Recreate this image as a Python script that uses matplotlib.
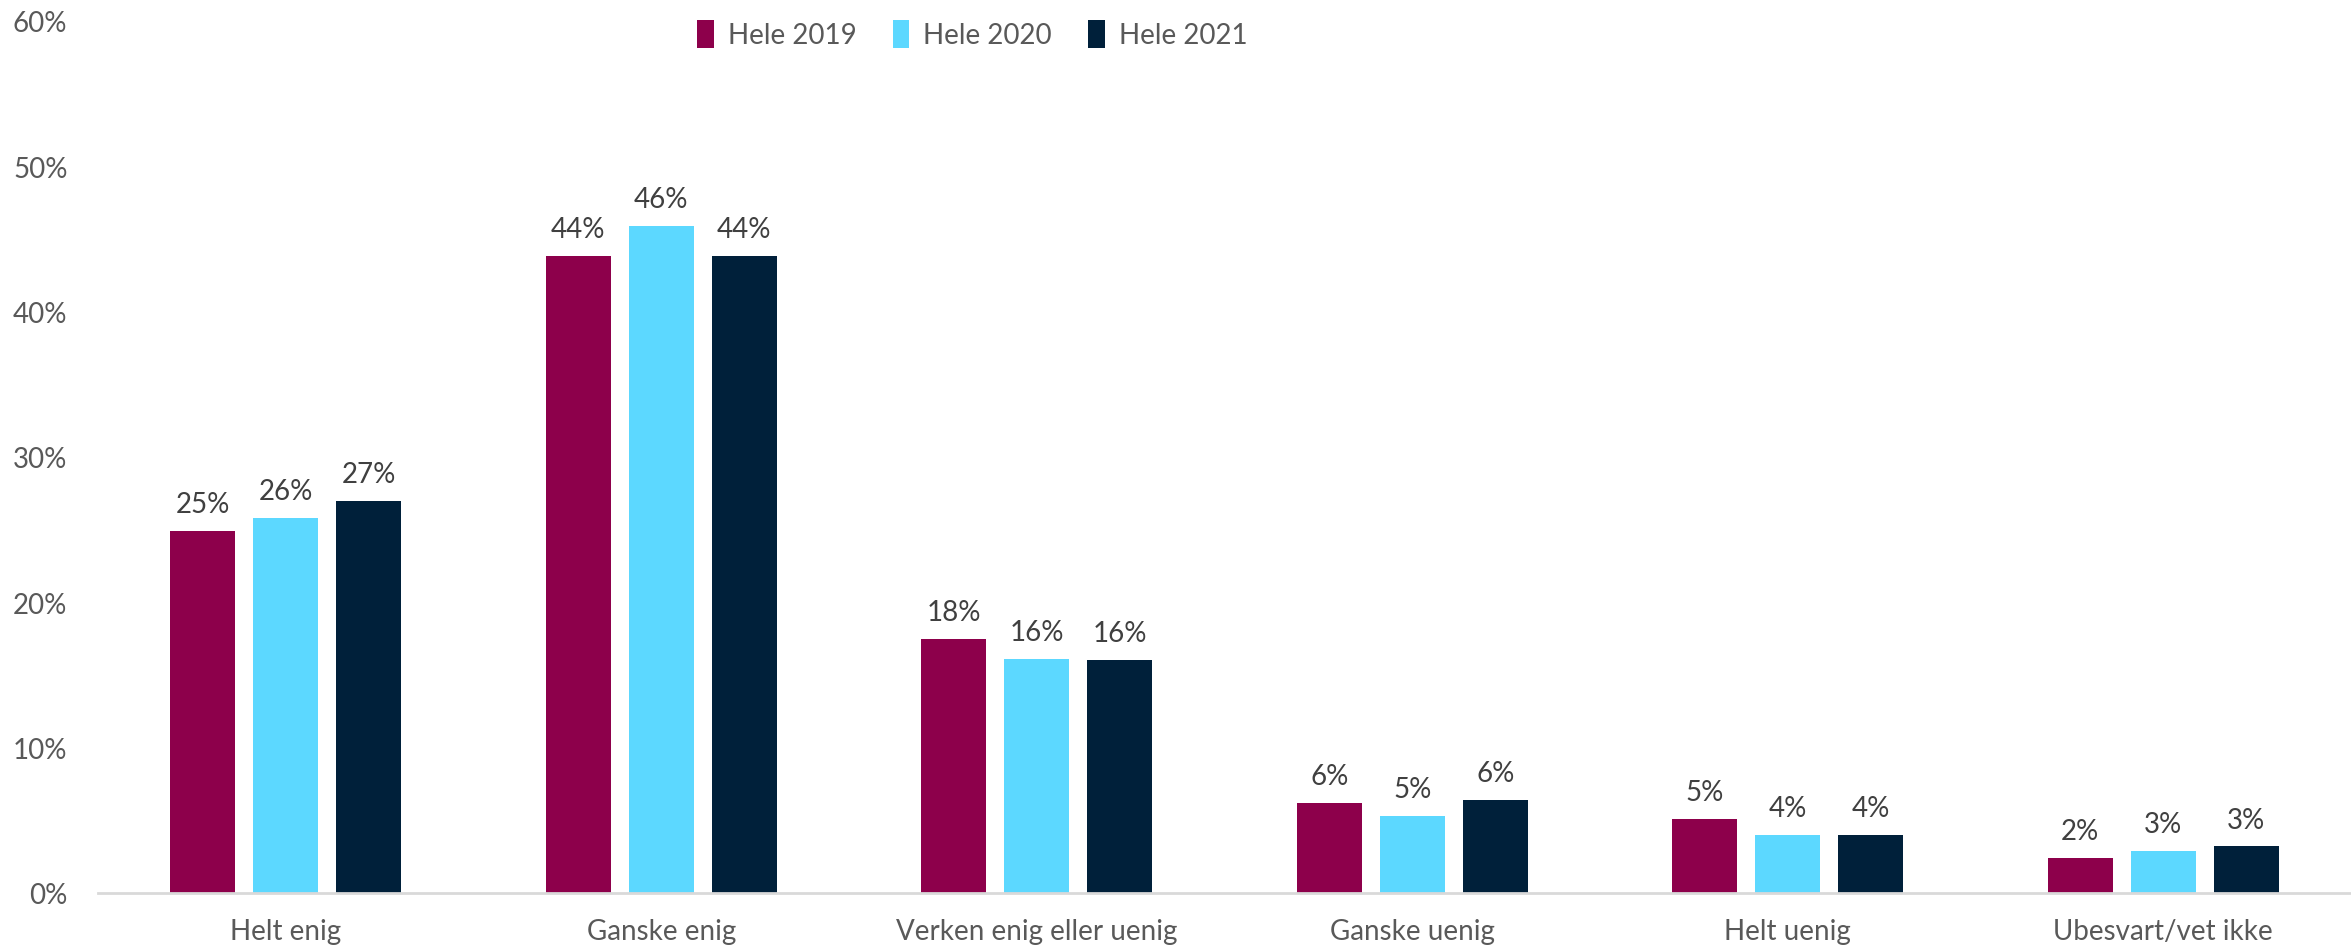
import numpy as np
import matplotlib.pyplot as plt
from matplotlib.ticker import PercentFormatter

categories = ['Helt enig', 'Ganske enig', 'Verken enig eller uenig',
              'Ganske uenig', 'Helt uenig', 'Ubesvart/vet ikke']
series_names = ['Hele 2019', 'Hele 2020', 'Hele 2021']
v2019 = [24.9, 43.8, 17.5, 6.2, 5.1, 2.4]
v2020 = [25.8, 45.9, 16.1, 5.3, 4.0, 2.9]
v2021 = [27.0, 43.8, 16.0, 6.4, 4.0, 3.2]
colors = ['#8D004B', '#5CD8FF', '#00203A']

plt.rcParams['font.family'] = ['Lato', 'DejaVu Sans']

fig = plt.figure(figsize=(23.51, 9.53), dpi=100)
ax = fig.add_axes([0.0417, 0.062, 0.9583, 0.915])

x = np.arange(len(categories))
width = 0.173
offsets = [-0.221, 0.0, 0.221]
for vals, name, col, off in zip((v2019, v2020, v2021), series_names, colors, offsets):
    bars = ax.bar(x + off, vals, width, color=col, label=name)
    for b, v in zip(bars, vals):
        ax.annotate('{:.0f}%'.format(v), (b.get_x() + b.get_width() / 2, v),
                    xytext=(0, 10), textcoords='offset points',
                    ha='center', va='bottom', fontsize=20, color='#404040')

ax.set_xlim(-0.5, len(categories) - 0.5)
ax.set_ylim(0, 60)
ax.set_yticks(np.arange(0, 61, 10))
ax.yaxis.set_major_formatter(PercentFormatter(decimals=0))
ax.set_xticks(x)
ax.set_xticklabels(categories)
ax.tick_params(axis='both', length=0, labelsize=20, labelcolor='#595959')
ax.tick_params(axis='x', pad=18)
ax.tick_params(axis='y', pad=22)

for s in ('top', 'right', 'left'):
    ax.spines[s].set_visible(False)
ax.spines['bottom'].set_color('#D9D9D9')
ax.spines['bottom'].set_linewidth(2)

leg = ax.legend(loc='upper center', bbox_to_anchor=(0.388, 1.03), ncol=3,
                frameon=False, fontsize=20, handlelength=0.6, handleheight=1.2,
                handletextpad=0.5, columnspacing=1.3)
for t in leg.get_texts():
    t.set_color('#595959')

fig.savefig('out.png', dpi=100)
